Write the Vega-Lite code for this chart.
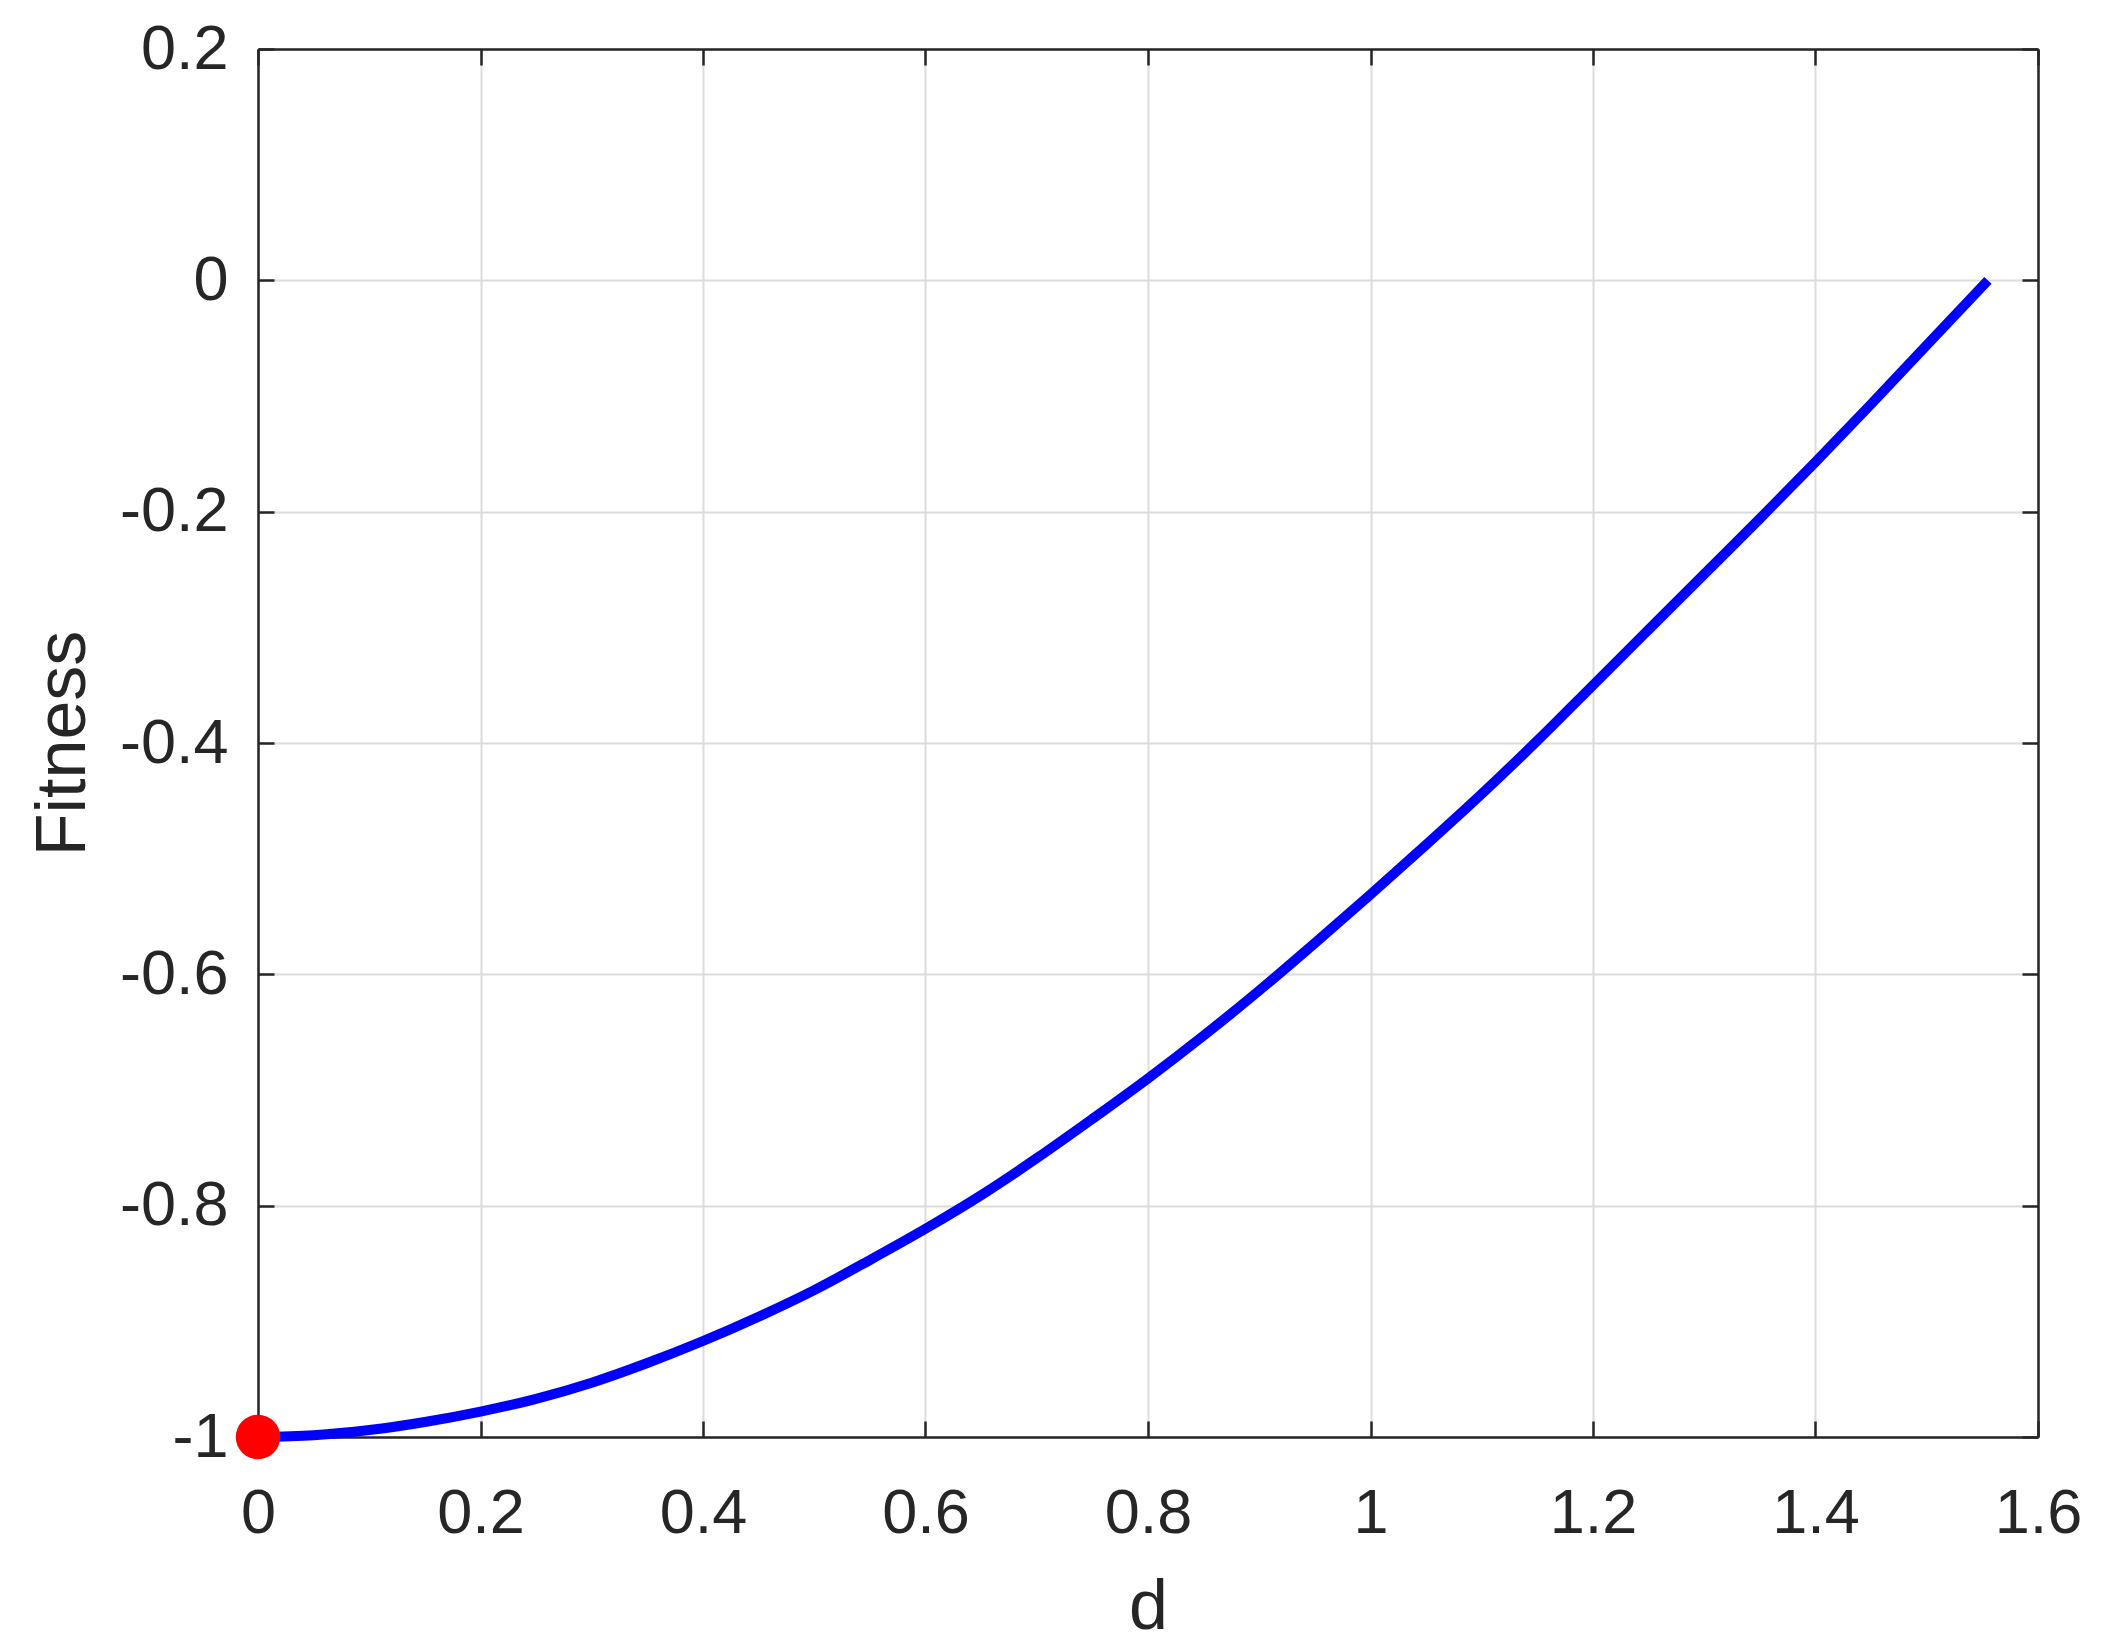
{
  "$schema": "https://vega.github.io/schema/vega-lite/v6.json",
  "width": 1780,
  "height": 1388,
  "autosize": {"type": "none"},
  "padding": {"left": 258, "top": 49, "right": 63, "bottom": 208},
  "background": "white",
  "config": {
    "font": "Liberation Sans",
    "view": {"stroke": null},
    "axis": {
      "labelFont": "Liberation Sans",
      "titleFont": "Liberation Sans",
      "labelFontSize": 63,
      "titleFontSize": 70,
      "labelColor": "#262626",
      "titleColor": "#262626",
      "titleFontWeight": "normal",
      "domainColor": "#262626",
      "domainWidth": 2.5,
      "tickColor": "#262626",
      "tickWidth": 2.5,
      "tickSize": -16,
      "gridColor": "#dcdcdc",
      "gridWidth": 2,
      "gridOpacity": 1,
      "labelOverlap": false,
      "labelFlush": false
    }
  },
  "datasets": {
    "curve": [
      {"d": 0.0, "fitness": -1.0},
      {"d": 0.05, "fitness": -0.9985},
      {"d": 0.1, "fitness": -0.994},
      {"d": 0.15, "fitness": -0.987},
      {"d": 0.2, "fitness": -0.978},
      {"d": 0.25, "fitness": -0.967},
      {"d": 0.3, "fitness": -0.953},
      {"d": 0.35, "fitness": -0.936},
      {"d": 0.4, "fitness": -0.917},
      {"d": 0.45, "fitness": -0.896},
      {"d": 0.5, "fitness": -0.873},
      {"d": 0.55, "fitness": -0.847},
      {"d": 0.6, "fitness": -0.820},
      {"d": 0.65, "fitness": -0.791},
      {"d": 0.7, "fitness": -0.759},
      {"d": 0.75, "fitness": -0.725},
      {"d": 0.8, "fitness": -0.690},
      {"d": 0.85, "fitness": -0.653},
      {"d": 0.9, "fitness": -0.614},
      {"d": 0.95, "fitness": -0.573},
      {"d": 1.0, "fitness": -0.531},
      {"d": 1.05, "fitness": -0.488},
      {"d": 1.1, "fitness": -0.444},
      {"d": 1.15, "fitness": -0.398},
      {"d": 1.2, "fitness": -0.350},
      {"d": 1.25, "fitness": -0.302},
      {"d": 1.3, "fitness": -0.254},
      {"d": 1.35, "fitness": -0.206},
      {"d": 1.4, "fitness": -0.157},
      {"d": 1.45, "fitness": -0.107},
      {"d": 1.5, "fitness": -0.056},
      {"d": 1.555, "fitness": 0.0}
    ],
    "optimum": [
      {"d": 0.0, "fitness": -1.0}
    ]
  },
  "layer": [
    {
      "data": {"name": "curve"},
      "mark": {"type": "line", "color": "#0000ff", "strokeWidth": 10, "strokeCap": "butt", "strokeJoin": "round", "interpolate": "monotone", "clip": false},
      "encoding": {
        "x": {
          "field": "d", "type": "quantitative",
          "scale": {"domain": [0, 1.6], "nice": false, "zero": false},
          "axis": {
            "orient": "bottom",
            "title": "d",
            "values": [0, 0.2, 0.4, 0.6, 0.8, 1, 1.2, 1.4, 1.6],
            "format": "~g",
            "labelExpr": "replace(datum.label, '−', '-')",
            "labelBaseline": "alphabetic",
            "labelPadding": 111,
            "grid": true,
            "titleX": 890,
            "titleY": 191,
            "titleBaseline": "alphabetic",
            "titleAlign": "center"
          }
        },
        "y": {
          "field": "fitness", "type": "quantitative",
          "scale": {"domain": [-1, 0.2], "nice": false, "zero": false},
          "axis": {
            "orient": "left",
            "title": "Fitness",
            "values": [-1, -0.8, -0.6, -0.4, -0.2, 0, 0.2],
            "format": "~g",
            "labelExpr": "replace(datum.label, '−', '-')",
            "labelBaseline": "middle",
            "labelPadding": 46,
            "grid": true,
            "titleX": -174,
            "titleY": 694,
            "titleAngle": -90,
            "titleBaseline": "alphabetic",
            "titleAlign": "center"
          }
        }
      }
    },
    {
      "data": {"name": "optimum"},
      "mark": {"type": "point", "shape": "circle", "filled": true, "color": "#ff0000", "opacity": 1, "size": 1980, "strokeWidth": 0, "clip": false},
      "encoding": {
        "x": {
          "field": "d", "type": "quantitative",
          "axis": {
            "orient": "top",
            "title": null,
            "values": [0, 0.2, 0.4, 0.6, 0.8, 1, 1.2, 1.4, 1.6],
            "labels": false,
            "grid": false
          }
        },
        "y": {
          "field": "fitness", "type": "quantitative",
          "axis": {
            "orient": "right",
            "title": null,
            "values": [-1, -0.8, -0.6, -0.4, -0.2, 0, 0.2],
            "labels": false,
            "grid": false
          }
        }
      }
    }
  ],
  "resolve": {"axis": {"x": "independent", "y": "independent"}}
}
